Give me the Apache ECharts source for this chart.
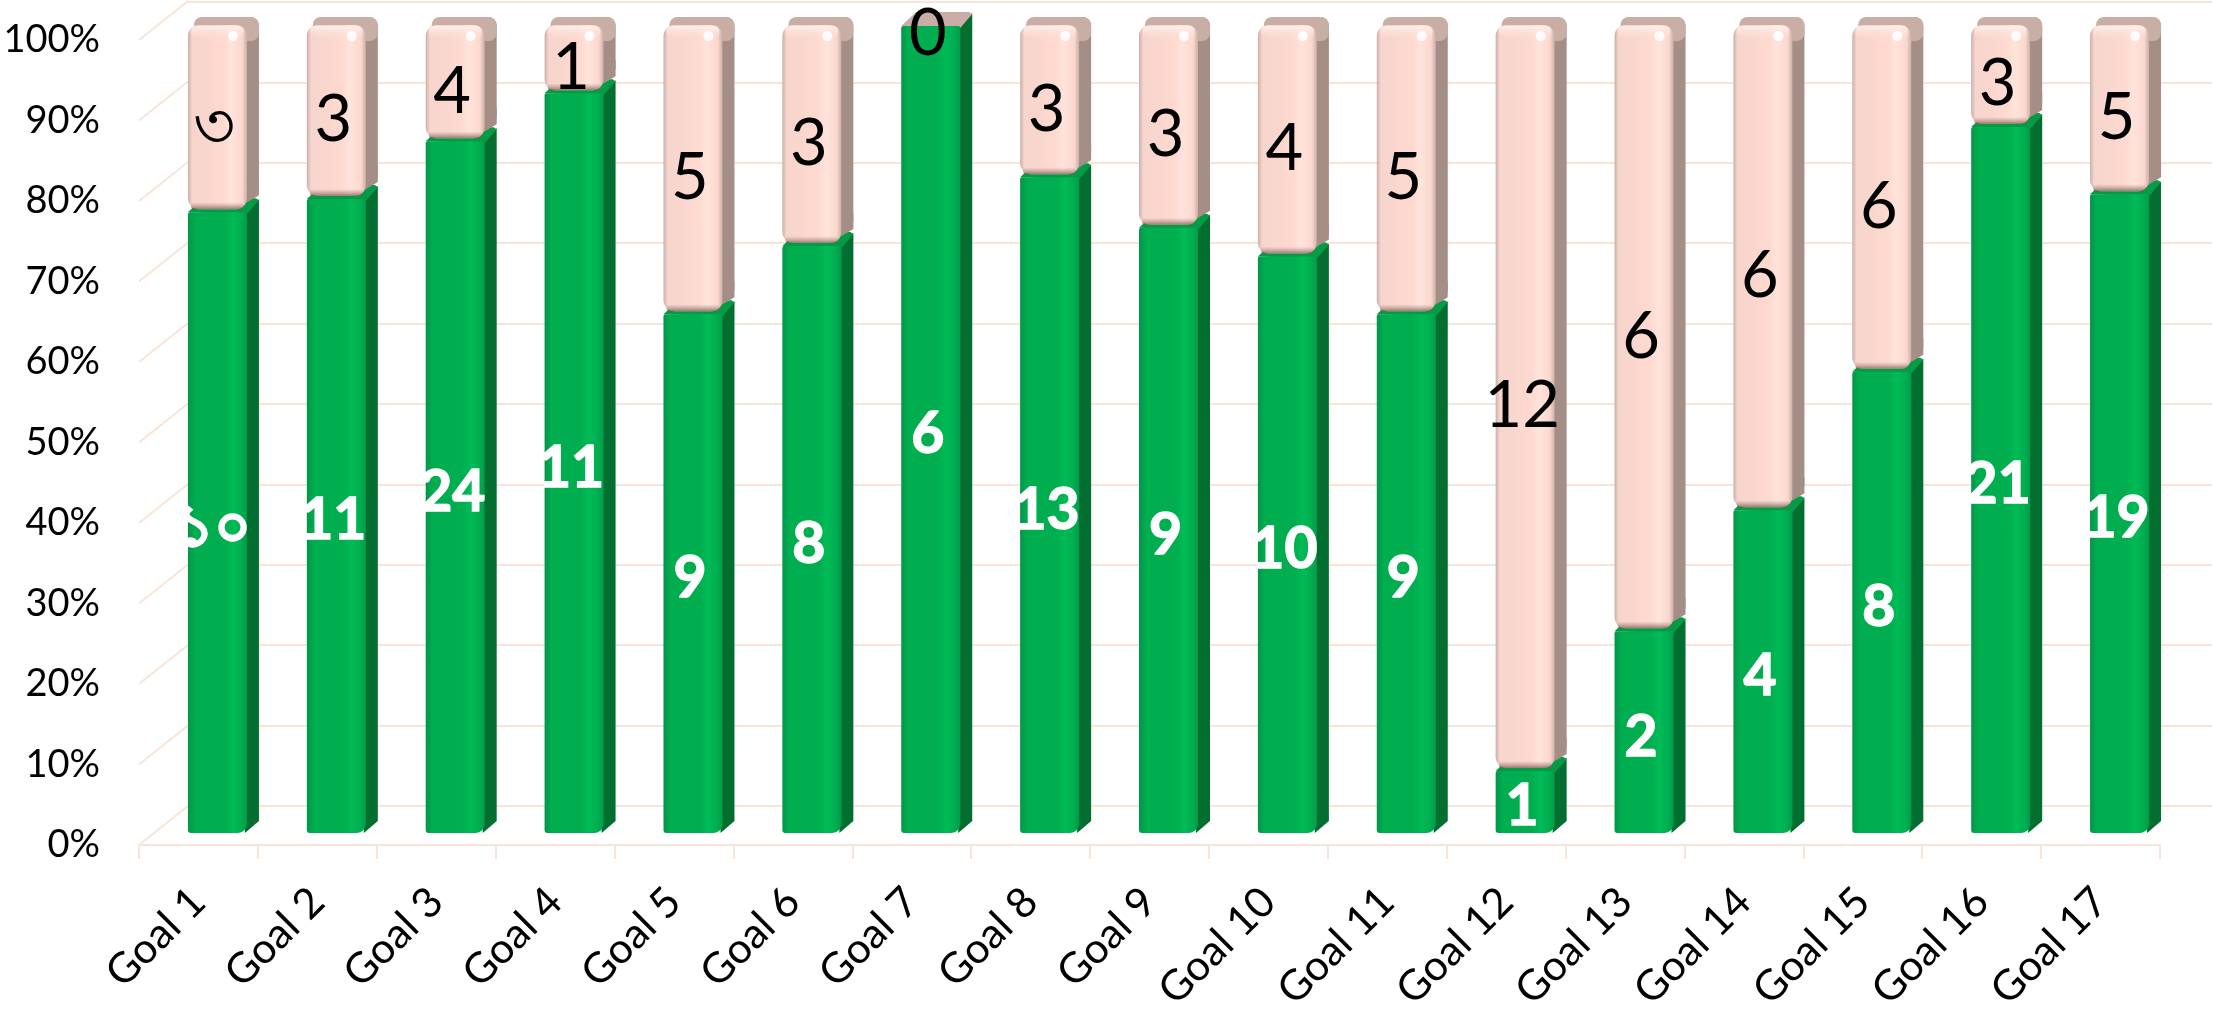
<!DOCTYPE html>
<html>
<head>
<meta charset="utf-8">
<style>html,body{margin:0;background:#fff}#c{width:2214px;height:1010px}</style>
<script src="https://cdn.jsdelivr.net/npm/echarts@6/dist/echarts.min.js"></script>
</head>
<body>
<div id="c"></div>
<script>
const goals = ['Goal 1','Goal 2','Goal 3','Goal 4','Goal 5','Goal 6','Goal 7','Goal 8','Goal 9','Goal 10','Goal 11','Goal 12','Goal 13','Goal 14','Goal 15','Goal 16','Goal 17']
const greenCounts = [10,11,24,11,9,8,6,13,9,10,9,1,2,4,8,21,19]
const pinkCounts = [3,3,4,1,5,3,0,3,3,4,5,12,6,6,6,3,5]
// first bar prints in another script in the original
const greenLabels = ['১০','11','24','11','9','8','6','13','9','10','9','1','2','4','8','21','19']
const pinkLabels = ['৩','3','4','1','5','3','0','3','3','4','5','12','6','6','6','3','5']
const wallTicks = [0,10,20,30,40,50,60,70,80,90,100]

const FONT = 'Lato'
const GRID_LINE = '#F8E5D8'
// depth of the floor, and how far the bars sit into it
const WALL_DX = 49, WALL_DY = -39
const BAR_DX = 19, BAR_DY = -12, BAR_W = 59, SIDE = 12
const BAR_SCALE = 807 / 805

const chart = echarts.init(document.getElementById('c'))

const greenFill = () => new echarts.graphic.LinearGradient(0, 0, 1, 0, [
  { offset: 0, color: '#05944A' }, { offset: 0.12, color: '#00AE50' }, { offset: 0.62, color: '#00AE50' },
  { offset: 0.76, color: '#00BB56' }, { offset: 0.9, color: '#00AE50' }, { offset: 1, color: '#029C49' }
])
const pinkFill = () => new echarts.graphic.LinearGradient(0, 0, 1, 0, [
  { offset: 0, color: '#C9B0A8' }, { offset: 0.07, color: '#F6D5CC' }, { offset: 0.6, color: '#FED9D0' },
  { offset: 0.74, color: '#FFE4DC' }, { offset: 0.92, color: '#FBD7CE' }, { offset: 1, color: '#C9B0A8' }
])

const barTop = (api, pct) => {
  const base = api.coord([api.value(0), 0])
  const top = api.coord([api.value(0), pct])
  return { x: base[0] + BAR_DX - BAR_W / 2, base: base[1] + BAR_DY, y: base[1] + BAR_DY - (base[1] - top[1]) * BAR_SCALE }
}

const renderGreen = (params, api) => {
  const b = barTop(api, api.value(1))
  const r = b.x + BAR_W
  // goal 7 has nothing on top, so its lid shows the pale series colour
  const lid = api.value(1) >= 100 ? '#C8ACA5' : '#049A46'
  return {
    type: 'group',
    children: [
      { type: 'polygon', shape: { points: [[r - 2, b.y], [r + SIDE, b.y - 13], [r + SIDE, b.base - 12], [r - 2, b.base]] }, style: { fill: '#026F30' } },
      { type: 'polygon', shape: { points: [[b.x, b.y], [b.x + 15, b.y - 14], [r + SIDE - 3, b.y - 14], [r + SIDE, b.y - 12], [r, b.y + 2]] }, style: { fill: lid } },
      { type: 'rect', shape: { x: b.x, y: b.y, width: BAR_W, height: b.base - b.y, r: [2, 2, 9, 3] }, style: { fill: greenFill() } }
    ]
  }
}

const renderPink = (params, api) => {
  const start = api.value(1)
  const end = api.value(2)
  if (end - start < 0.01) return
  const lo = barTop(api, start)
  const hi = barTop(api, end)
  const r = lo.x + BAR_W
  const top = hi.y - 1
  const bottom = lo.y - 3
  return {
    type: 'group',
    children: [
      { type: 'rect', shape: { x: r - 14, y: top - 8, width: 14 + SIDE, height: bottom - top - 5, r: 9 }, style: { fill: '#A48E85' } },
      { type: 'polygon', shape: { points: [[r - 8, bottom - 2], [r + SIDE, bottom - 14], [r + SIDE, bottom - 30], [r - 8, bottom - 30]] }, style: { fill: '#A48E85' } },
      { type: 'rect', shape: { x: lo.x + 6, y: top - 8, width: BAR_W + SIDE - 6, height: 24, r: 8 }, style: { fill: '#C8AEA5' } },
      { type: 'rect', shape: { x: lo.x, y: top, width: BAR_W, height: bottom - top, r: 11 }, style: { fill: pinkFill() } },
      { type: 'rect', shape: { x: lo.x + 3, y: top + 1, width: BAR_W - 6, height: 13, r: 6 }, style: { fill: new echarts.graphic.LinearGradient(0, 0, 0, 1, [{ offset: 0, color: 'rgba(255,240,235,0.95)' }, { offset: 1, color: 'rgba(255,224,216,0)' }]) } },
      { type: 'ellipse', shape: { cx: r - 14, cy: top + 11, rx: 5, ry: 5 }, style: { fill: '#FFFFFF', opacity: 0.9 } },
      { type: 'rect', shape: { x: lo.x + 3, y: bottom - 7, width: BAR_W - 6, height: 7, r: 3 }, style: { fill: new echarts.graphic.LinearGradient(0, 0, 0, 1, [{ offset: 0, color: 'rgba(160,125,115,0)' }, { offset: 1, color: 'rgba(120,90,82,0.75)' }]) } }
    ]
  }
}

const renderLabel = (params, api) => {
  const mid = barTop(api, (api.value(1) + api.value(2)) / 2)
  const light = api.value(3) === 1
  const i = api.value(0)
  return {
    type: 'text',
    style: {
      x: mid.x + BAR_W / 2 - 3,
      y: mid.y + (light ? 5 : 8),
      text: light ? greenLabels[i] : pinkLabels[i],
      align: 'center',
      verticalAlign: 'middle',
      font: (light ? 'bold 57px ' : '65px ') + FONT,
      fill: light ? '#FFFFFF' : '#000000',
      stroke: light ? '#FFFFFF' : 'transparent',
      lineWidth: light ? 1.5 : 0,
      shadowColor: light ? 'rgba(0,0,0,0.5)' : 'transparent',
      shadowBlur: light ? 3 : 0,
      shadowOffsetX: light ? 2 : 0,
      shadowOffsetY: light ? 2 : 0
    }
  }
}

const renderFloorLine = (params, api) => {
  const y = api.coord([0, api.value(0)])[1]
  const x = params.coordSys.x
  return {
    type: 'line',
    shape: { x1: x, y1: y, x2: x + WALL_DX, y2: y + WALL_DY },
    style: { stroke: GRID_LINE, lineWidth: 2 }
  }
}

const rows = goals.map((g, i) => {
  const total = greenCounts[i] + pinkCounts[i]
  return { i, green: greenCounts[i] / total * 100 }
})

chart.setOption({
  animation: false,
  backgroundColor: '#fff',
  grid: [
    { left: 139, top: 40, width: 2021, height: 805, outerBoundsMode: 'none' },
    { left: 188, top: 2, width: 2024, height: 804, outerBoundsMode: 'none' }
  ],
  xAxis: [
    {
      type: 'category',
      data: goals,
      gridIndex: 0,
      axisLine: { lineStyle: { color: GRID_LINE, width: 2 } },
      axisTick: { show: true, length: 14, lineStyle: { color: GRID_LINE, width: 2 } },
      axisLabel: { rotate: 45, interval: 0, color: '#000', fontFamily: FONT, fontSize: 42, margin: 50 }
    },
    { type: 'category', data: goals, gridIndex: 1, show: false }
  ],
  yAxis: [
    {
      type: 'value',
      gridIndex: 0,
      min: 0,
      max: 100,
      interval: 10,
      splitLine: { show: false },
      axisLine: { show: false },
      axisTick: { show: false },
      axisLabel: { formatter: '{value}%', color: '#000', fontFamily: FONT, fontSize: 38, margin: 39, padding: [0, 0, 10, 0] }
    },
    {
      type: 'value',
      gridIndex: 1,
      min: 0,
      max: 100,
      interval: 10,
      axisLine: { show: false },
      axisTick: { show: false },
      axisLabel: { show: false },
      splitLine: { show: true, lineStyle: { color: GRID_LINE, width: 2 } }
    }
  ],
  series: [
    {
      type: 'custom', silent: true, xAxisIndex: 0, yAxisIndex: 0, z: 1, clip: false,
      renderItem: renderFloorLine, encode: { y: 0 },
      data: wallTicks.map(t => [t])
    },
    {
      type: 'custom', silent: true, xAxisIndex: 0, yAxisIndex: 0, z: 3, clip: false,
      renderItem: renderGreen, encode: { x: 0, y: 1 },
      data: rows.map(d => [d.i, d.green])
    },
    {
      type: 'custom', silent: true, xAxisIndex: 0, yAxisIndex: 0, z: 4, clip: false,
      renderItem: renderPink, encode: { x: 0, y: [1, 2] },
      data: rows.map(d => [d.i, d.green, 100])
    },
    {
      type: 'custom', silent: true, xAxisIndex: 0, yAxisIndex: 0, z: 5, clip: false,
      renderItem: renderLabel,
      data: rows.flatMap(d => [
        [d.i, 0, d.green, 1],
        [d.i, d.green, 100, 0]
      ])
    }
  ]
})
</script>
</body>
</html>
